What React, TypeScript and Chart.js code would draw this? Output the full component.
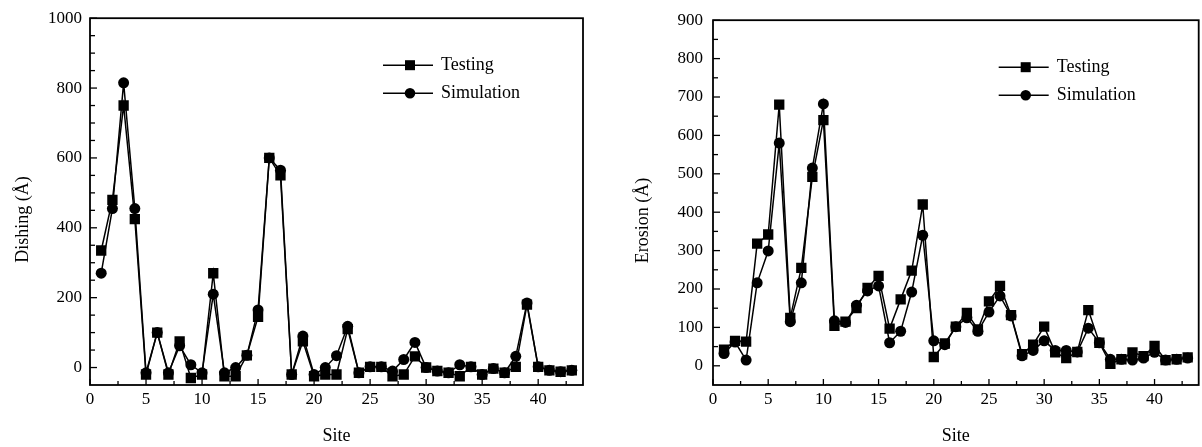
import React, { useEffect, useRef } from "react";
import { Chart, registerables } from "chart.js";

Chart.register(...registerables);

const sites = [
  1, 2, 3, 4, 5, 6, 7, 8, 9, 10, 11, 12, 13, 14, 15, 16, 17, 18, 19, 20, 21, 22,
  23, 24, 25, 26, 27, 28, 29, 30, 31, 32, 33, 34, 35, 36, 37, 38, 39, 40, 41, 42, 43,
];

const dishingTesting = [
  335, 480, 750, 425, -20, 100, -20, 75, -30, -20, 270, -25, -25, 35, 145, 600, 550,
  -20, 75, -25, -20, -20, 110, -15, 2, 2, -25, -20, 32, 0, -10, -15, -25, 2, -20, -3,
  -15, 2, 180, 2, -8, -12, -8,
];
const dishingSimulation = [
  270, 455, 815, 455, -15, 100, -15, 62, 8, -15, 210, -15, 0, 35, 165, 600, 565, -20,
  90, -20, 0, 34, 118, -15, 2, 2, -10, 23, 72, 0, -10, -15, 8, 2, -20, -3, -15, 32,
  185, 2, -8, -12, -8,
];

const erosionTesting = [
  42, 65, 63, 318, 342, 680, 125, 255, 492, 640, 104, 115, 150, 203, 234, 97, 173, 248,
  420, 23, 58, 102, 138, 95, 168, 208, 132, 30, 55, 102, 35, 20, 36, 145, 60, 5, 17,
  35, 25, 52, 15, 17, 22,
];
const erosionSimulation = [
  32, 62, 15, 216, 299, 580, 115, 216, 515, 682, 117, 113, 158, 195, 208, 60, 90, 192,
  340, 65, 55, 102, 125, 90, 140, 182, 130, 26, 40, 65, 40, 40, 36, 98, 60, 17, 17, 15,
  20, 35, 15, 17, 20,
];

const siteTicks = [0, 5, 10, 15, 20, 25, 30, 35, 40];
const dishingTicks = [0, 200, 400, 600, 800, 1000];
const erosionTicks = [0, 100, 200, 300, 400, 500, 600, 700, 800, 900];

const seriesNames = ["Testing", "Simulation"];

const FONT = "'Liberation Serif', 'Times New Roman', serif";

const framePlugin = {
  id: "frame",
  afterDraw(chart: any, _args: any, opts: any) {
    const { ctx, chartArea: a, scales } = chart;
    ctx.save();
    ctx.strokeStyle = "#000";
    ctx.lineWidth = 1.8;
    ctx.strokeRect(a.left, a.top, a.right - a.left, a.bottom - a.top);

    ctx.lineWidth = 1.3;
    const ys = scales.y;
    for (let v = opts.yFrom; v <= opts.yTo + 1e-9; v += opts.yMinor) {
      const p = ys.getPixelForValue(v);
      const major = Math.abs(v % opts.yMajor) < 1e-6;
      ctx.beginPath();
      ctx.moveTo(a.left, p);
      ctx.lineTo(a.left + (major ? 7 : 5), p);
      ctx.stroke();
    }
    const xs = scales.x;
    for (let v = opts.xFrom; v <= opts.xTo + 1e-9; v += opts.xMinor) {
      const p = xs.getPixelForValue(v);
      const major = Math.abs(v % opts.xMajor) < 1e-6;
      ctx.beginPath();
      ctx.moveTo(p, a.bottom);
      ctx.lineTo(p, a.bottom - (major ? 6 : 4));
      ctx.stroke();
    }

    // y title
    ctx.save();
    ctx.fillStyle = "#000";
    ctx.font = `18px ${FONT}`;
    ctx.textAlign = "center";
    ctx.textBaseline = "middle";
    ctx.translate(opts.yTitleX, (a.top + a.bottom) / 2 + 18);
    ctx.rotate(-Math.PI / 2);
    ctx.fillText(opts.yTitle, 0, 0);
    ctx.restore();

    // legend
    const lx = a.right - opts.legendRight;
    const ly = a.top + 47;
    chart.data.datasets.forEach((ds: any, i: number) => {
      const y = ly + i * 28;
      ctx.strokeStyle = "#000";
      ctx.fillStyle = "#000";
      ctx.lineWidth = 1.5;
      ctx.beginPath();
      ctx.moveTo(lx, y);
      ctx.lineTo(lx + 50, y);
      ctx.stroke();
      const cx = lx + 27;
      if (ds.pointStyle === "rect") {
        ctx.fillRect(cx - 5, y - 5, 10, 10);
      } else {
        ctx.beginPath();
        ctx.arc(cx, y, 5.3, 0, Math.PI * 2);
        ctx.fill();
      }
      ctx.font = `18px ${FONT}`;
      ctx.textBaseline = "middle";
      ctx.textAlign = "left";
      ctx.fillText(ds.label, lx + 58, y);
    });
    ctx.restore();
  },
};

type PanelProps = {
  left: number;
  width: number;
  testing: number[];
  simulation: number[];
  yMin: number;
  yMax: number;
  yTicks: number[];
  yMinorStep: number;
  yMajorStep: number;
  yTitle: string;
  yAxisWidth: number;
  yTitleX: number;
  yLabelPad: number;
  rightPad: number;
};

function Panel(p: PanelProps) {
  const ref = useRef<HTMLCanvasElement>(null);
  useEffect(() => {
    if (!ref.current) return;
    const tickFont = { family: FONT, size: 17 };
    const titleFont = { family: FONT, size: 18 };
    const chart = new Chart(ref.current, {
      type: "line",
      data: {
        datasets: [
          {
            label: seriesNames[0],
            data: sites.map((s, i) => ({ x: s, y: p.testing[i] })),
            borderColor: "#000",
            backgroundColor: "#000",
            borderWidth: 1.5,
            pointStyle: "rect",
            pointRadius: 7.3,
            pointBorderWidth: 0,
            tension: 0,
          },
          {
            label: seriesNames[1],
            data: sites.map((s, i) => ({ x: s, y: p.simulation[i] })),
            borderColor: "#000",
            backgroundColor: "#000",
            borderWidth: 1.5,
            pointStyle: "circle",
            pointRadius: 5.5,
            pointBorderWidth: 0,
            tension: 0,
          },
        ],
      },
      options: {
        animation: false,
        responsive: false,
        maintainAspectRatio: false,
        layout: { padding: { left: 0, top: 18, right: p.rightPad, bottom: 0 } },
        plugins: {
          legend: { display: false },
          tooltip: { enabled: false },
          frame: {
            yFrom: 0,
            yTo: p.yMax,
            yMinor: p.yMinorStep,
            yMajor: p.yMajorStep,
            xFrom: 0,
            xTo: 42.5,
            xMinor: 2.5,
            xMajor: 5,
            legendRight: 200,
            yTitle: p.yTitle,
            yTitleX: p.yTitleX,
          },
        } as any,
        scales: {
          x: {
            type: "linear",
            min: 0,
            max: 44,
            grid: { display: false, drawTicks: false },
            border: { display: false },
            ticks: {
              font: tickFont,
              color: "#000",
              padding: 4,
              maxRotation: 0,
              autoSkip: false,
              callback: (v: any) => String(v),
            },
            title: {
              display: true,
              text: "Site",
              font: titleFont,
              color: "#000",
              padding: { top: 0, bottom: 0 },
            },
            afterBuildTicks: (s: any) => {
              s.ticks = siteTicks.map((v) => ({ value: v }));
            },
            afterFit: (s: any) => {
              s.height = 62;
            },
          },
          y: {
            type: "linear",
            min: p.yMin,
            max: p.yMax,
            grid: { display: false, drawTicks: false },
            border: { display: false },
            ticks: {
              font: tickFont,
              color: "#000",
              padding: p.yLabelPad,
              callback: (v: any) => String(v),
            },
            title: { display: false },
            afterBuildTicks: (s: any) => {
              s.ticks = p.yTicks.map((v) => ({ value: v }));
            },
            afterFit: (s: any) => {
              s.width = p.yAxisWidth;
            },
          },
        },
      } as any,
      plugins: [framePlugin],
    });
    return () => chart.destroy();
  }, []);
  return (
    <canvas
      ref={ref}
      width={p.width}
      height={447}
      style={{ position: "absolute", left: p.left, top: 0, width: p.width, height: 447 }}
    />
  );
}

export default function App() {
  return (
    <div
      style={{
        position: "absolute",
        left: 0,
        top: 0,
        width: 1202,
        height: 447,
        overflow: "hidden",
        background: "#fff",
      }}
    >
      <Panel
        left={0}
        width={600}
        testing={dishingTesting}
        simulation={dishingSimulation}
        yMin={-50}
        yMax={1000}
        yTicks={dishingTicks}
        yMinorStep={50}
        yMajorStep={200}
        yTitle="Dishing (Å)"
        yAxisWidth={90}
        yTitleX={23}
        yLabelPad={8}
        rightPad={17}
      />
      <Panel
        left={600}
        width={606}
        testing={erosionTesting}
        simulation={erosionSimulation}
        yMin={-50}
        yMax={900}
        yTicks={erosionTicks}
        yMinorStep={50}
        yMajorStep={100}
        yTitle="Erosion (Å)"
        yAxisWidth={113}
        yTitleX={43}
        yLabelPad={10}
        rightPad={3}
      />
    </div>
  );
}
